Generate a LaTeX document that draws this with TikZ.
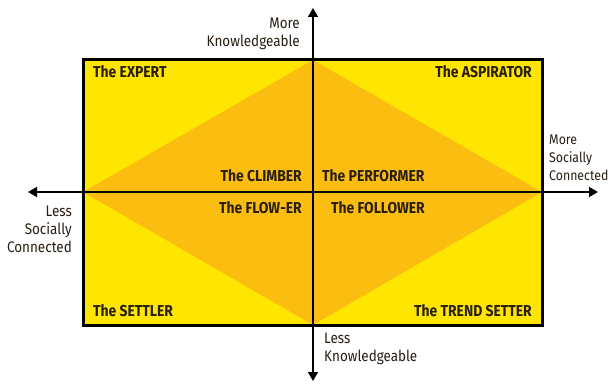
\documentclass[tikz,border=0pt]{standalone}
\usepackage{fontspec}
\setmainfont{Fira Sans}[FakeStretch=0.88]
\usepackage{tikz}
\usetikzlibrary{arrows.meta}

\definecolor{quadyellow}{RGB}{255,230,0}
\definecolor{diamondorange}{RGB}{251,190,16}
\definecolor{labeltext}{RGB}{40,30,20}

\begin{document}
\begin{tikzpicture}[x=1pt,y=-1pt,
  every node/.style={font=\bfseries\fontsize{15.8}{18}\selectfont, text=labeltext, inner sep=0pt},
  axislabel/.style={font=\fontsize{15.3}{18}\selectfont, align=right},
  axis/.style={line width=1.5pt, -{Triangle[length=9pt,width=10pt]}}]

\useasboundingbox (0,0) rectangle (612,385);

% riquadro e rombo
\fill[quadyellow] (83,60) rectangle (542,325);
\fill[diamondorange] (313,60) -- (542,192) -- (313,325) -- (83,192) -- cycle;
\draw[line width=3pt] (83,60) rectangle (542,325);

% assi
\coordinate (o) at (313,192);
\coordinate (top) at (313,8);
\coordinate (bottom) at (313,381);
\coordinate (left) at (28,192);
\coordinate (right) at (598,192);
\draw[axis] (o) -- (top);
\draw[axis] (o) -- (bottom);
\draw[axis] (o) -- (left);
\draw[axis] (o) -- (right);

\node[axislabel, anchor=east] (mk) at (300,34) {More\\Knowledgeable};
\node[axislabel, anchor=west, align=left] (lk) at (324,349) {Less\\Knowledgeable};
\node[axislabel, anchor=west, align=left, font=\fontsize{14}{18}\selectfont] (msc) at (549,158) {More\\Socially\\Connected};
\node[axislabel, anchor=east] (lsc) at (72,229) {Less\\Socially\\Connected};

\node[anchor=west] (expert) at (93,72) {The EXPERT};
\node[anchor=east] (aspirator) at (532,72) {The ASPIRATOR};
\node[anchor=east] (climber) at (302,176) {The CLIMBER};
\node[anchor=west] (performer) at (322,176) {The PERFORMER};
\node[anchor=east] (flower) at (302,208) {The FLOW-ER};
\node[anchor=west] (follower) at (331,208) {The FOLLOWER};
\node[anchor=west] (settler) at (93,311) {The SETTLER};
\node[anchor=east] (trend) at (532,311) {The TREND SETTER};

\end{tikzpicture}
\end{document}
